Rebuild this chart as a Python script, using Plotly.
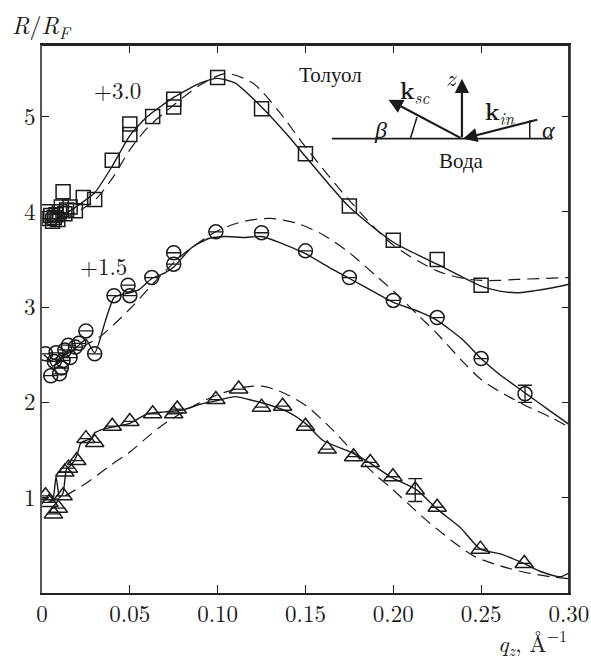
import plotly.graph_objects as go

# ---- measured reflectivity (offset curves) ----
sq_q = [0.002, 0.004, 0.005, 0.006, 0.007, 0.008, 0.009, 0.010, 0.011, 0.012, 0.013, 0.014,
        0.016, 0.019, 0.0235, 0.030, 0.040, 0.050, 0.050, 0.063, 0.075, 0.075, 0.100, 0.125,
        0.150, 0.175, 0.200, 0.225, 0.250]
sq_R = [4.00, 3.93, 3.96, 3.90, 3.94, 3.97, 3.92, 4.00, 4.05, 4.21, 3.98, 4.02,
        4.05, 4.01, 4.15, 4.13, 4.54, 4.81, 4.92, 5.00, 5.10, 5.18, 5.41, 5.08,
        4.61, 4.06, 3.70, 3.50, 3.23]

ci_q = [0.002, 0.005, 0.007, 0.008, 0.010, 0.011, 0.012, 0.013, 0.015, 0.016, 0.019, 0.021,
        0.025, 0.030, 0.041, 0.049, 0.050, 0.0625, 0.075, 0.075, 0.099, 0.125, 0.150, 0.175,
        0.200, 0.225, 0.250, 0.275]
ci_R = [2.51, 2.28, 2.43, 2.52, 2.30, 2.36, 2.44, 2.55, 2.60, 2.47, 2.58, 2.62,
        2.75, 2.51, 3.12, 3.23, 3.12, 3.31, 3.45, 3.57, 3.79, 3.78, 3.59, 3.31,
        3.07, 2.89, 2.46, 2.09]
ci_err = [0] * 27 + [0.09]

tr_q = [0.002, 0.004, 0.0065, 0.0093, 0.012, 0.013, 0.015, 0.0198, 0.025, 0.030, 0.040, 0.050,
        0.063, 0.075, 0.077, 0.099, 0.112, 0.125, 0.137, 0.150, 0.1624, 0.1774, 0.1869, 0.1998,
        0.2125, 0.225, 0.2496, 0.2746]
tr_R = [1.02, 0.95, 0.83, 0.89, 1.02, 1.27, 1.31, 1.39, 1.62, 1.58, 1.75, 1.80,
        1.88, 1.88, 1.93, 2.03, 2.14, 1.95, 1.96, 1.75, 1.51, 1.43, 1.37, 1.22,
        1.08, 0.90, 0.46, 0.31]
tr_err = [0] * 24 + [0.12, 0, 0, 0]

# ---- model curves: solid = fitted, dashed = reference model ----
sq_fit_q = [0.002, 0.005, 0.01, 0.015, 0.02, 0.03, 0.04, 0.05, 0.06, 0.075, 0.09, 0.1, 0.11,
            0.125, 0.14, 0.15, 0.175, 0.2, 0.225, 0.25, 0.26, 0.27, 0.28, 0.29, 0.3]
sq_fit_R = [3.92, 3.90, 3.95, 4.00, 4.06, 4.20, 4.48, 4.80, 5.00, 5.20, 5.35, 5.40, 5.35,
            5.10, 4.80, 4.58, 4.05, 3.68, 3.45, 3.22, 3.17, 3.15, 3.17, 3.20, 3.24]
sq_mod_q = [0.002, 0.01, 0.02, 0.03, 0.04, 0.05, 0.06, 0.075, 0.09, 0.105, 0.12, 0.135, 0.15,
            0.175, 0.2, 0.225, 0.24, 0.25, 0.26, 0.27, 0.3]
sq_mod_R = [3.88, 3.92, 4.00, 4.12, 4.35, 4.65, 4.88, 5.12, 5.33, 5.45, 5.35, 5.05, 4.68,
            4.12, 3.65, 3.38, 3.30, 3.28, 3.28, 3.29, 3.31]

ci_fit_q = [0.001, 0.004, 0.006, 0.008, 0.010, 0.012, 0.015, 0.018, 0.021, 0.025, 0.030, 0.036,
            0.041, 0.045, 0.05, 0.055, 0.0625, 0.07, 0.075, 0.085, 0.095, 0.105, 0.115, 0.125,
            0.135, 0.15, 0.165, 0.175, 0.19, 0.2, 0.215, 0.225, 0.24, 0.25, 0.26, 0.275, 0.29, 0.3]
ci_fit_R = [2.50, 2.45, 2.38, 2.40, 2.42, 2.48, 2.52, 2.55, 2.60, 2.66, 2.52, 2.85,
            3.10, 3.13, 3.15, 3.18, 3.30, 3.36, 3.42, 3.62, 3.72, 3.74, 3.73, 3.74,
            3.68, 3.56, 3.40, 3.30, 3.15, 3.05, 2.95, 2.86, 2.65, 2.46, 2.30, 2.10, 1.90, 1.77]
ci_mod_q = [0.003, 0.01, 0.02, 0.033, 0.05, 0.065, 0.08, 0.1, 0.115, 0.13, 0.145, 0.16, 0.175,
            0.19, 0.2, 0.215, 0.225, 0.24, 0.25, 0.26, 0.275, 0.29, 0.3]
ci_mod_R = [2.42, 2.48, 2.56, 2.69, 2.98, 3.28, 3.55, 3.80, 3.90, 3.93, 3.88, 3.76, 3.57,
            3.33, 3.17, 2.90, 2.72, 2.42, 2.24, 2.12, 1.97, 1.84, 1.74]

tr_fit_q = [0.0, 0.003, 0.006, 0.008, 0.010, 0.012, 0.014, 0.017, 0.020, 0.022, 0.025, 0.028,
            0.030, 0.035, 0.040, 0.05, 0.06, 0.07, 0.08, 0.09, 0.1, 0.11, 0.12, 0.13, 0.14,
            0.15, 0.16, 0.1755, 0.187, 0.1983, 0.2135, 0.225, 0.238, 0.2496, 0.261, 0.2743,
            0.2847, 0.295, 0.3]
tr_fit_R = [1.00, 0.99, 0.97, 1.22, 1.00, 1.05, 1.30, 1.35, 1.45, 1.57, 1.60, 1.62,
            1.68, 1.72, 1.74, 1.78, 1.88, 1.90, 1.92, 1.98, 2.02, 2.06, 2.02, 1.97, 1.90,
            1.78, 1.60, 1.48, 1.36, 1.22, 1.08, 0.88, 0.69, 0.46, 0.41, 0.31,
            0.22, 0.17, 0.21]
tr_mod_q = [0.003, 0.013, 0.025, 0.039, 0.05, 0.067, 0.085, 0.1, 0.115, 0.125, 0.135, 0.15,
            0.165, 0.187, 0.2, 0.221, 0.2456, 0.26, 0.274, 0.29, 0.3]
tr_mod_R = [0.95, 1.02, 1.15, 1.34, 1.48, 1.74, 1.95, 2.08, 2.16, 2.17, 2.12, 1.97,
            1.72, 1.29, 1.08, 0.73, 0.39, 0.29, 0.22, 0.17, 0.15]

x_ticks = [0, 0.05, 0.10, 0.15, 0.20, 0.25, 0.30]
x_labels = ["0", "0.05", "0.10", "0.15", "0.20", "0.25", "0.30"]
y_ticks = [1, 2, 3, 4, 5]

INK = "#1a1a1a"
FONT = "Latin Modern Roman"
DASH = "12px,7px"

fig = go.Figure()

for q, r in [(sq_fit_q, sq_fit_R), (ci_fit_q, ci_fit_R), (tr_fit_q, tr_fit_R)]:
    fig.add_trace(go.Scatter(x=q, y=r, mode="lines",
                             line=dict(color=INK, width=1.4, shape="spline", smoothing=0.6)))
for q, r in [(sq_mod_q, sq_mod_R), (ci_mod_q, ci_mod_R), (tr_mod_q, tr_mod_R)]:
    fig.add_trace(go.Scatter(x=q, y=r, mode="lines",
                             line=dict(color=INK, width=1.2, dash=DASH, shape="spline", smoothing=0.8)))

fig.add_trace(go.Scatter(x=sq_q, y=sq_R, mode="markers",
                         marker=dict(symbol="square-open", size=14, color=INK, line=dict(width=1.5))))
fig.add_trace(go.Scatter(x=ci_q, y=ci_R, mode="markers",
                         error_y=dict(type="data", array=ci_err, color=INK, thickness=1.3, width=7),
                         marker=dict(symbol="circle-open", size=14, color=INK, line=dict(width=1.5))))
fig.add_trace(go.Scatter(x=tr_q, y=tr_R, mode="markers",
                         error_y=dict(type="data", array=tr_err, color=INK, thickness=1.3, width=7),
                         marker=dict(symbol="triangle-up-open", size=16, color=INK, line=dict(width=1.5))))

# ---- plot frame (top and right sides) ----
fig.add_shape(type="line", xref="paper", yref="paper", x0=0, x1=1, y0=1, y1=1,
              line=dict(color="#222", width=1.8))
fig.add_shape(type="line", xref="paper", yref="paper", x0=1, x1=1, y0=0, y1=1,
              line=dict(color="#222", width=1.8))

# ---- scattering geometry sketch ----
base_y = 4.767
fig.add_shape(type="line", x0=0.1651, x1=0.2905, y0=base_y, y1=base_y,
              line=dict(color=INK, width=1.8))
fig.add_shape(type="line", x0=0.2097, x1=0.2135, y0=base_y, y1=4.994,
              line=dict(color=INK, width=1.5))
fig.add_shape(type="line", x0=0.2777, x1=0.2777, y0=base_y, y1=4.96,
              line=dict(color=INK, width=1.5))
arrows = [
    (0.2391, 5.397, 0.2391, base_y),   # z axis
    (0.1973, 5.176, 0.2391, base_y),   # scattered wave
    (0.2397, base_y, 0.2828, 4.970),   # incident wave
]
for xt, yt, xs, ys in arrows:
    fig.add_annotation(x=xt, y=yt, ax=xs, ay=ys, xref="x", yref="y", axref="x", ayref="y",
                       showarrow=True, arrowhead=2, arrowsize=1.3, arrowwidth=2.2,
                       arrowcolor=INK, text="")

labels = [
    (0.1641, 5.452, "Толуол", 21),
    (0.2391, 4.557, "Вода", 21),
    (0.2334, 5.415, "<i>z</i>", 23),
    (0.2120, 5.270, "<b>k</b><sub><i>sc</i></sub>", 24),
    (0.2610, 5.050, "<b>k</b><sub><i>in</i></sub>", 24),
    (0.1926, 4.880, "<i>β</i>", 24),
    (0.2883, 4.880, "<i>α</i>", 24),
    (0.0427, 5.284, "+3.0", 23),
    (0.0348, 3.437, "+1.5", 23),
]
for x, y, t, s in labels:
    fig.add_annotation(x=x, y=y, xref="x", yref="y", text=t, showarrow=False,
                       font=dict(family=FONT, size=s, color=INK))

fig.add_annotation(x=0.0, y=1.035, xref="paper", yref="paper", xanchor="center", yanchor="middle",
                   text="<i>R</i>/<i>R</i><sub><i>F</i></sub>", showarrow=False,
                   font=dict(family=FONT, size=24, color=INK))
fig.add_annotation(x=1.0, y=-0.09, xref="paper", yref="paper", xanchor="right", yanchor="middle",
                   text="<i>q<sub>z</sub></i>, Å<sup>−1</sup>", showarrow=False,
                   font=dict(family=FONT, size=23, color=INK))

fig.update_layout(
    width=591, height=659,
    margin=dict(l=42, r=22, t=45, b=66, autoexpand=False),
    paper_bgcolor="white", plot_bgcolor="white",
    showlegend=False,
    font=dict(family=FONT, size=23, color=INK),
    xaxis=dict(range=[0, 0.30005], tickvals=x_ticks, ticktext=x_labels, automargin=False,
               ticks="inside", ticklen=8, tickwidth=1.3, tickcolor=INK,
               showline=True, linecolor="#222", linewidth=1.6, mirror="ticks",
               showgrid=False, zeroline=False, tickfont=dict(family=FONT, size=23, color=INK)),
    yaxis=dict(range=[0, 5.75], tickvals=y_ticks, automargin=False,
               ticks="inside", ticklen=7, tickwidth=1.3, tickcolor=INK,
               showline=True, linecolor="#555", linewidth=2, mirror="ticks",
               showgrid=False, zeroline=False, tickfont=dict(family=FONT, size=23, color=INK)),
)

fig.write_html("out.html")
